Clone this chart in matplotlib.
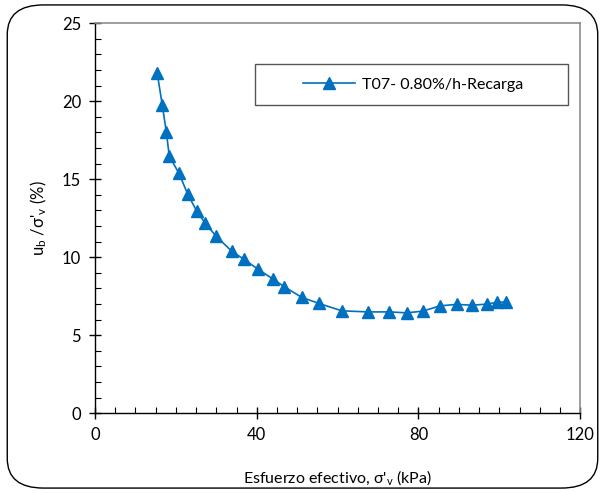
import matplotlib
matplotlib.use("Agg")
import matplotlib.pyplot as plt
from matplotlib.patches import FancyBboxPatch, Rectangle
from matplotlib.ticker import MultipleLocator

plt.rcParams["font.family"] = ["Lato", "DejaVu Sans"]
plt.rcParams["mathtext.default"] = "regular"

# effective stress (kPa) and ub/sigma'v (%)
stress = [15.4, 16.65, 17.64, 18.38, 20.78, 22.93, 25.16, 27.14, 29.86, 33.82,
          36.79, 40.2, 44.04, 46.83, 51.14, 55.43, 61.03, 67.47, 72.74, 77.12,
          81.07, 85.35, 89.49, 93.35, 96.91, 99.38, 101.68]
ratio = [21.78, 19.74, 18.03, 16.47, 15.37, 14.04, 12.95, 12.22, 11.37, 10.38,
         9.87, 9.25, 8.59, 8.1, 7.42, 7.03, 6.56, 6.49, 6.49, 6.43,
         6.54, 6.88, 6.97, 6.92, 6.99, 7.1, 7.13]
series_label = "T07- 0.80%/h-Recarga"

blue = "#0070C0"

fig = plt.figure(figsize=(6.05, 4.93), dpi=100)
ax = fig.add_axes([0.157, 0.162, 0.802, 0.791])

ax.plot(stress, ratio, color=blue, linewidth=1.2, marker="^", markersize=8,
        label=series_label)

ax.set_xlim(0, 120)
ax.set_ylim(0, 25)
ax.xaxis.set_major_locator(MultipleLocator(40))
ax.xaxis.set_minor_locator(MultipleLocator(5))
ax.yaxis.set_major_locator(MultipleLocator(5))
ax.yaxis.set_minor_locator(MultipleLocator(1))
ax.tick_params(which="major", direction="inout", length=8, width=1, labelsize=12,
               color="black", pad=6)
ax.tick_params(which="minor", direction="in", length=4, width=0.8, color="black")

for side in ["top", "right"]:
    ax.spines[side].set_color("#8c8c8c")
    ax.spines[side].set_linewidth(1.2)
for side in ["left", "bottom"]:
    ax.spines[side].set_color("black")
    ax.spines[side].set_linewidth(1)

ax.set_xlabel("Esfuerzo efectivo, σ'$_v$ (kPa)", fontsize=11.5, labelpad=18)
ax.set_ylabel("u$_b$ /σ'$_v$ (%)", fontsize=12, labelpad=9)

# legend: frameless entry inside a hand-placed box, as in the spreadsheet chart
ax.add_patch(Rectangle((0.330, 0.790), 0.645, 0.105, transform=ax.transAxes,
                       facecolor="white", edgecolor="#555555", linewidth=1,
                       zorder=4))
leg = ax.legend(loc="center left", bbox_to_anchor=(0.429, 0.842),
                fontsize=11.5, frameon=False, borderpad=0, borderaxespad=0,
                handlelength=3.25, handletextpad=0.45)
leg.set_zorder(5)

border = FancyBboxPatch((0.012, 0.01), 0.976, 0.98, transform=fig.transFigure,
                        boxstyle="round,pad=0,rounding_size=0.06",
                        facecolor="none", edgecolor="black", linewidth=1)
fig.patches.append(border)

fig.savefig("out.png", dpi=100)
